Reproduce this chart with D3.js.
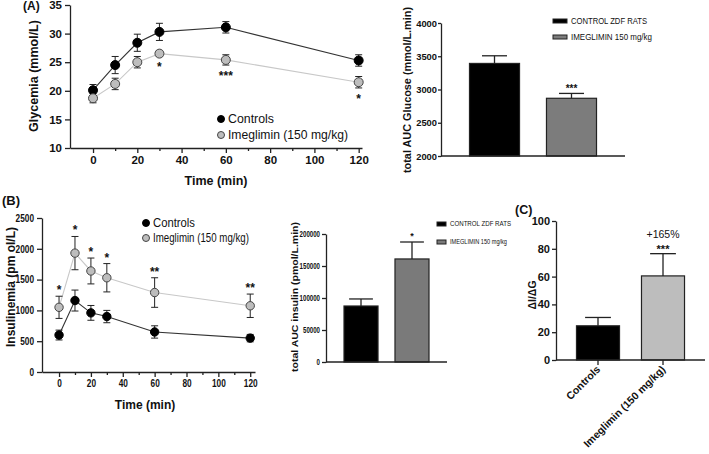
<!DOCTYPE html>
<html>
<head>
<meta charset="utf-8">
<script src="https://cdn.jsdelivr.net/npm/d3@7/dist/d3.min.js"></script>
<style>
  html, body { margin: 0; padding: 0; background: #fff; }
  svg { display: block; font-family: "Liberation Sans", Arial, sans-serif; }
</style>
</head>
<body>
<svg id="chart" width="709" height="454"></svg>
<script>
// ---------------- DATA ----------------
const times = [0, 10, 20, 30, 60, 120];
const timeTicks = [0, 20, 40, 60, 80, 100, 120];
const timeMinorTicks = [10, 30, 50, 70, 90, 110];

const glyControls = [20.1, 24.5, 28.4, 30.3, 31.1, 25.3];
const glyControlsErr = [1.0, 1.5, 1.5, 1.5, 1.0, 1.0];
const glyImeg = [18.7, 21.2, 25.0, 26.5, 25.4, 21.5];
const glyImegErr = [0.8, 1.0, 1.0, 0.5, 0.9, 1.0];
const glySig = ["", "", "", "*", "***", "*"];
const glyTicks = [10, 15, 20, 25, 30, 35];

const insControls = [600, 1160, 960, 900, 650, 550];
const insControlsErr = [80, 170, 120, 100, 100, 60];
const insImeg = [1050, 1930, 1640, 1530, 1290, 1075];
const insImegErr = [180, 270, 210, 230, 240, 190];
const insSig = ["*", "*", "*", "*", "**", "**"];
const insTicks = [0, 500, 1000, 1500, 2000, 2500];

const seriesNames = ["Controls", "Imeglimin (150 mg/kg)"];

const aucGroups = ["CONTROL ZDF RATS", "IMEGLIMIN 150 mg/kg"];
const aucGlu = [3392, 2868];
const aucGluErr = [115, 73];
const aucGluSig = ["", "***"];
const aucGluTicks = [2000, 2500, 3000, 3500, 4000];

const aucIns = [87500, 161000];
const aucInsErr = [11000, 26500];
const aucInsSig = ["", "*"];
const aucInsTicks = [0, 50000, 100000, 150000, 200000];

const ratioGroups = ["Controls", "Imeglimin (150 mg/kg)"];
const ratio = [24.6, 60.5];
const ratioErr = [6.0, 16];
const ratioSig = ["", "***"];
const ratioNote = ["", "+165%"];
const ratioTicks = [0, 20, 40, 60, 80, 100];

// ---------------- HELPERS ----------------
const svg = d3.select("#chart");

function styleAxis(g, fs, bold) {
  g.selectAll("path, line").attr("stroke", "#222").attr("stroke-width", 1.3);
  g.selectAll("text").attr("fill", "#111").attr("font-size", fs)
    .attr("font-weight", bold ? "bold" : "normal")
    .attr("font-family", '"Liberation Sans", Arial, sans-serif');
}

function narrow(sel, perChar) {
  if (!perChar) return;
  sel.selectAll("text").attr("textLength", function () { return perChar * this.textContent.length; })
    .attr("lengthAdjust", "spacingAndGlyphs");
}

function linePanel(cfg) {
  const x = d3.scaleLinear().domain(cfg.xDomain).range(cfg.xRange);
  const y = d3.scaleLinear().domain(cfg.yDomain).range(cfg.yRange);
  const g = svg.append("g");

  // axes
  const xa = g.append("g").attr("transform", `translate(0,${cfg.yRange[0]})`)
    .call(d3.axisBottom(x).tickValues(timeTicks).tickSize(5).tickPadding(3).tickSizeOuter(0)
      .tickFormat(d3.format("d")));
  styleAxis(xa, cfg.tickFs, true);
  narrow(xa, cfg.tickLen);
  const xm = g.append("g").attr("transform", `translate(0,${cfg.yRange[0]})`)
    .call(d3.axisBottom(x).tickValues(timeMinorTicks).tickSize(3).tickFormat("").tickSizeOuter(0));
  xm.select(".domain").remove();
  styleAxis(xm, cfg.tickFs, true);

  const ya = g.append("g").attr("transform", `translate(${cfg.xRange[0]},0)`)
    .call(d3.axisLeft(y).tickValues(cfg.yTicks).tickSize(5).tickPadding(3).tickSizeOuter(0)
      .tickFormat(d3.format("d")));
  styleAxis(ya, cfg.tickFs, true);
  narrow(ya, cfg.tickLen);

  // titles
  g.append("text").attr("x", cfg.xTitle[0]).attr("y", cfg.xTitle[1])
    .attr("text-anchor", "middle").attr("font-weight", "bold").attr("font-size", cfg.titleFs)
    .attr("fill", "#111").text("Time (min)");
  g.append("text").attr("transform", `translate(${cfg.yTitle[0]},${cfg.yTitle[1]}) rotate(-90)`)
    .attr("text-anchor", "middle").attr("font-weight", "bold").attr("font-size", cfg.titleFs)
    .attr("fill", "#111").text(cfg.yLabel);

  const line = d3.line().x((d, i) => x(times[i])).y(d => y(d));
  const series = [
    { v: cfg.ctrl, e: cfg.ctrlErr, fill: "#000", stroke: "#000", line: "#333" },
    { v: cfg.imeg, e: cfg.imegErr, fill: "#bdbdbd", stroke: "#444", line: "#c8c8c8" }
  ];
  series.slice().reverse().forEach(s => {
    g.append("path").datum(s.v).attr("d", line).attr("fill", "none")
      .attr("stroke", s.line).attr("stroke-width", 1.1);
  });
  series.forEach(s => {
    const eg = g.append("g");
    s.v.forEach((v, i) => {
      const cx = x(times[i]);
      const y1 = y(v + s.e[i]), y2 = y(v - s.e[i]);
      eg.append("line").attr("x1", cx).attr("x2", cx).attr("y1", y1).attr("y2", y2)
        .attr("stroke", "#222").attr("stroke-width", 1);
      [y1, y2].forEach(yy => eg.append("line").attr("x1", cx - cfg.cap).attr("x2", cx + cfg.cap)
        .attr("y1", yy).attr("y2", yy).attr("stroke", "#222").attr("stroke-width", 1));
    });
  });
  series.forEach(s => {
    g.append("g").selectAll("circle").data(s.v).join("circle")
      .attr("cx", (d, i) => x(times[i])).attr("cy", d => y(d)).attr("r", cfg.r)
      .attr("fill", s.fill).attr("stroke", s.stroke).attr("stroke-width", 1);
  });

  // significance
  cfg.sig.forEach((s, i) => {
    if (!s) return;
    const cx = x(times[i]);
    let yy;
    if (cfg.sigBelow) yy = y(cfg.imeg[i] - cfg.imegErr[i]) + cfg.sigOffset;
    else yy = y(cfg.imeg[i] + cfg.imegErr[i]) - cfg.sigOffset;
    g.append("text").attr("x", cx).attr("y", yy).attr("text-anchor", "middle")
      .attr("font-size", cfg.sigFs).attr("font-weight", "bold").attr("fill", "#111").text(s);
  });

  // legend
  seriesNames.forEach((n, i) => {
    const ly = cfg.legend[1] + i * cfg.legendGap;
    g.append("circle").attr("cx", cfg.legend[0]).attr("cy", ly).attr("r", cfg.legendR)
      .attr("fill", series[i].fill).attr("stroke", series[i].stroke).attr("stroke-width", 1);
    g.append("text").attr("x", cfg.legend[0] + 7).attr("y", ly).attr("dy", "0.35em")
      .attr("font-size", cfg.legendFs).attr("fill", "#111")
      .attr("textLength", cfg.legendLen[i]).attr("lengthAdjust", "spacingAndGlyphs").text(n);
  });
}

function barPanel(cfg) {
  const x = d3.scaleBand().domain(cfg.groups).range(cfg.xRange)
    .paddingInner(cfg.pi).paddingOuter(cfg.po);
  const y = d3.scaleLinear().domain(cfg.yDomain).range(cfg.yRange);
  const g = svg.append("g");

  // bars
  g.selectAll("rect.bar").data(cfg.values).join("rect").attr("class", "bar")
    .attr("x", (d, i) => x(cfg.groups[i])).attr("width", x.bandwidth())
    .attr("y", d => y(d)).attr("height", d => y(cfg.yDomain[0]) - y(d))
    .attr("fill", (d, i) => cfg.colors[i]).attr("stroke", "#222").attr("stroke-width", 1.2);

  // error bars (upper)
  cfg.values.forEach((v, i) => {
    const cx = x(cfg.groups[i]) + x.bandwidth() / 2;
    const yt = y(v + cfg.errs[i]);
    const cw = x.bandwidth() * cfg.capFrac / 2;
    g.append("line").attr("x1", cx).attr("x2", cx).attr("y1", y(v)).attr("y2", yt)
      .attr("stroke", "#222").attr("stroke-width", 1.3);
    g.append("line").attr("x1", cx - cw).attr("x2", cx + cw).attr("y1", yt).attr("y2", yt)
      .attr("stroke", "#222").attr("stroke-width", 1.3);
    if (cfg.sig[i]) {
      g.append("text").attr("x", cx).attr("y", yt - cfg.sigOffset).attr("text-anchor", "middle")
        .attr("font-size", cfg.sigFs).attr("font-weight", "bold").attr("fill", "#111").text(cfg.sig[i]);
    }
    if (cfg.note && cfg.note[i]) {
      g.append("text").attr("x", cx).attr("y", yt - cfg.noteOffset).attr("text-anchor", "middle")
        .attr("font-size", cfg.noteFs).attr("fill", "#111").text(cfg.note[i]);
    }
  });

  // axes
  const ya = g.append("g").attr("transform", `translate(${cfg.xRange[0]},0)`)
    .call(d3.axisLeft(y).tickValues(cfg.yTicks).tickSize(cfg.tickSize).tickPadding(cfg.tickPad).tickSizeOuter(0)
      .tickFormat(d3.format("d")));
  styleAxis(ya, cfg.tickFs, true);
  narrow(ya, cfg.tickLen);

  g.append("line").attr("x1", cfg.xRange[0]).attr("x2", cfg.xEnd)
    .attr("y1", cfg.yRange[0]).attr("y2", cfg.yRange[0]).attr("stroke", "#222").attr("stroke-width", 1.3);

  if (cfg.xLabels) {
    cfg.groups.forEach((gname, i) => {
      const cx = x(gname) + x.bandwidth() / 2;
      g.append("line").attr("x1", cx).attr("x2", cx).attr("y1", cfg.yRange[0]).attr("y2", cfg.yRange[0] + 5)
        .attr("stroke", "#222").attr("stroke-width", 1.3);
      g.append("text").attr("transform", `translate(${cx + 3},${cfg.yRange[0] + 10}) rotate(-45)`)
        .attr("text-anchor", "end").attr("font-size", cfg.xLabelFs).attr("font-weight", "bold")
        .attr("fill", "#111").text(gname);
    });
  }

  // y title
  const yt = g.append("text").attr("transform", `translate(${cfg.yTitle[0]},${cfg.yTitle[1]}) rotate(-90)`)
    .attr("text-anchor", "middle").attr("font-weight", "bold").attr("font-size", cfg.titleFs)
    .attr("fill", "#111").text(cfg.yLabel);
  if (cfg.titleLen) yt.attr("textLength", cfg.titleLen).attr("lengthAdjust", "spacingAndGlyphs");

  // legend
  if (cfg.legend) {
    cfg.groups.forEach((n, i) => {
      const ly = cfg.legend[1] + i * cfg.legendGap;
      g.append("rect").attr("x", cfg.legend[0]).attr("y", ly - cfg.legendH / 2)
        .attr("width", cfg.legendW).attr("height", cfg.legendH)
        .attr("fill", cfg.colors[i]).attr("stroke", "#222").attr("stroke-width", 1);
      g.append("text").attr("x", cfg.legend[0] + cfg.legendW + 4).attr("y", ly).attr("dy", "0.35em")
        .attr("font-size", cfg.legendFs).attr("fill", "#111")
        .attr("textLength", cfg.legendLen[i]).attr("lengthAdjust", "spacingAndGlyphs").text(n);
    });
  }
}

// ---------------- PANELS ----------------
// (A) glycemia time course
linePanel({
  xDomain: [-10.4, 121.5], xRange: [70, 362],
  yDomain: [10, 35], yRange: [148, 5], yTicks: glyTicks,
  ctrl: glyControls, ctrlErr: glyControlsErr, imeg: glyImeg, imegErr: glyImegErr,
  sig: glySig, sigBelow: true, sigOffset: 15, sigFs: 12,
  tickFs: 11.5, titleFs: 12.5, xTitle: [216, 185], yTitle: [38, 76],
  yLabel: "Glycemia (mmol/L)", r: 4.5, cap: 3.5,
  legend: [221, 119], legendGap: 16, legendR: 3.5, legendFs: 12.5, legendLen: [46, 120]
});

// (B) insulinemia time course
linePanel({
  xDomain: [-10.7, 123], xRange: [42, 255],
  yDomain: [0, 2500], yRange: [372, 218], yTicks: insTicks,
  ctrl: insControls, ctrlErr: insControlsErr, imeg: insImeg, imegErr: insImegErr,
  sig: insSig, sigBelow: false, sigOffset: 2, sigFs: 12,
  tickFs: 10, tickLen: 4.6, titleFs: 12, xTitle: [145, 409], yTitle: [15, 287],
  yLabel: "Insulinemia (pm ol/L)", r: 4.2, cap: 3.5,
  legend: [146, 223], legendGap: 15, legendR: 3.5, legendFs: 12, legendLen: [42, 96]
});

// AUC glucose
barPanel({
  groups: aucGroups, values: aucGlu, errs: aucGluErr, sig: aucGluSig,
  colors: ["#000000", "#7c7c7c"],
  xRange: [441, 625], xEnd: 625, pi: 0.35, po: 0.37,
  yDomain: [2000, 4000], yRange: [156, 23], yTicks: aucGluTicks,
  capFrac: 0.5, sigOffset: 1, sigFs: 10, tickFs: 9.5, tickLen: 5.2, tickSize: 3, tickPad: 1,
  titleFs: 10, titleLen: 166, yTitle: [411, 90], yLabel: "total AUC Glucose (mmol/L.min)",
  legend: [553, 21], legendGap: 16, legendW: 14, legendH: 4, legendFs: 9, legendLen: [76, 81]
});

// AUC insulin
barPanel({
  groups: aucGroups, values: aucIns, errs: aucInsErr, sig: aucInsSig,
  colors: ["#000000", "#7a7a7a"],
  xRange: [326, 447], xEnd: 447, pi: 0.333, po: 0.353,
  yDomain: [0, 200000], yRange: [362, 234], yTicks: aucInsTicks,
  capFrac: 0.7, sigOffset: 3, sigFs: 9, tickFs: 8.5, tickLen: 3.4, tickSize: 4, tickPad: 2,
  titleFs: 8.5, titleLen: 150, yTitle: [298, 297], yLabel: "total AUC insulin  (pmol/L.min)",
  legend: [437, 224], legendGap: 18, legendW: 9, legendH: 4, legendFs: 7, legendLen: [61, 57]
});

// (C) ratio
barPanel({
  groups: ratioGroups, values: ratio, errs: ratioErr, sig: ratioSig, note: ratioNote,
  colors: ["#000000", "#bdbdbd"],
  xRange: [556, 705], xEnd: 705, pi: 0.338, po: 0.315,
  yDomain: [0, 100], yRange: [360, 221], yTicks: ratioTicks,
  capFrac: 0.6, sigOffset: 1, sigFs: 11, noteOffset: 16, noteFs: 10.5,
  tickFs: 11, tickSize: 4, tickPad: 2, titleFs: 10.5, yTitle: [536, 295], yLabel: "\u0394I/\u0394G",
  xLabels: true, xLabelFs: 10.5
});

// panel letters
[["(A)", 23, 10, 12], ["(B)", 2, 205, 13], ["(C)", 515, 214, 12.5]].forEach(([t, x, y, fs]) => {
  svg.append("text").attr("x", x).attr("y", y).attr("font-size", fs).attr("font-weight", "bold")
    .attr("fill", "#111").text(t);
});
</script>
</body>
</html>
